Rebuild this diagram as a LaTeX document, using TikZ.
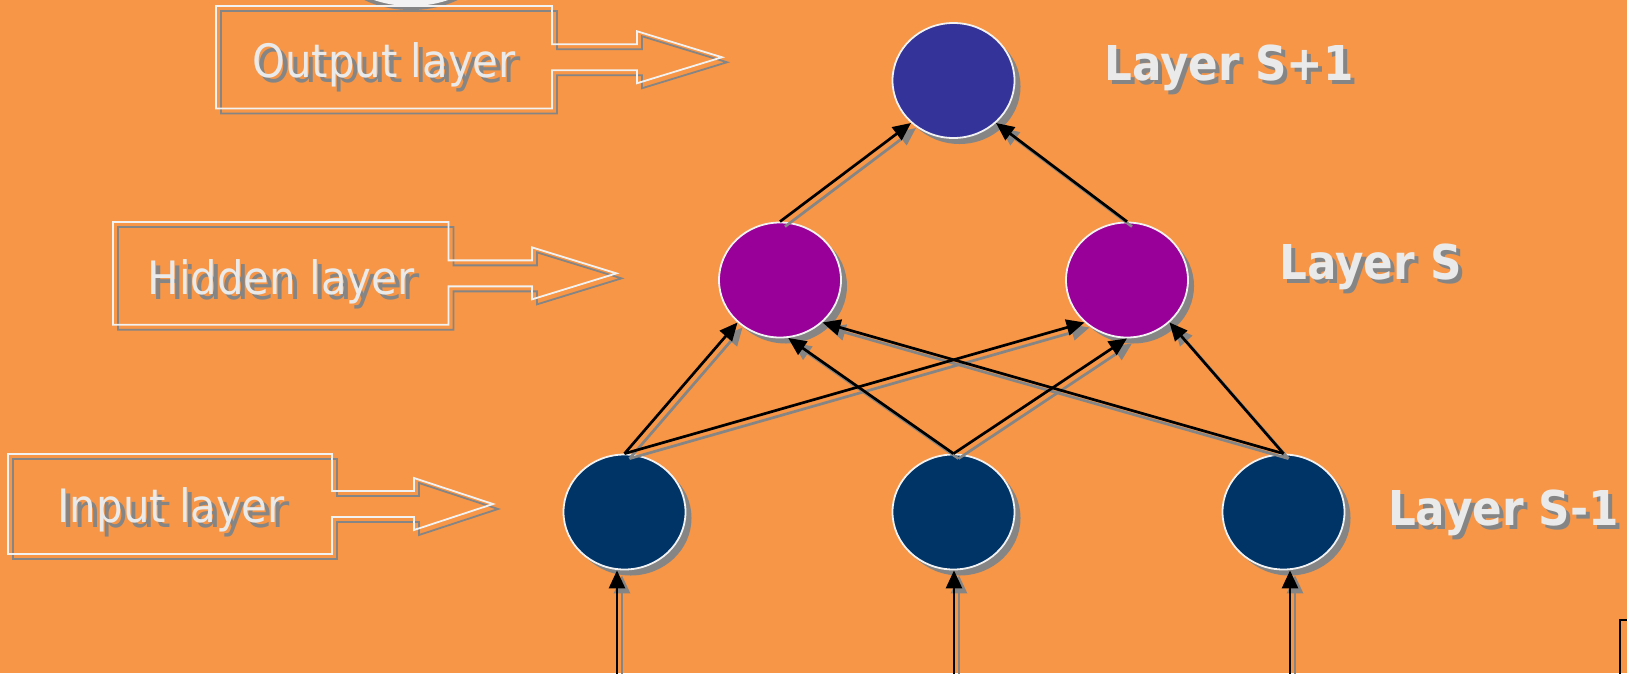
\documentclass[tikz,border=0pt]{standalone}
\usepackage{fontspec}
\usetikzlibrary{arrows.meta,shapes.geometric,shadows}
\newfontfamily\labelfont{DejaVu Sans}[FakeStretch=0.91]

\definecolor{bgorange}{HTML}{F79646}
\definecolor{outblue}{HTML}{333399}
\definecolor{hidpurple}{HTML}{990099}
\definecolor{inpnavy}{HTML}{003366}
\definecolor{rimwhite}{HTML}{F2F2F2}
\definecolor{textwhite}{HTML}{EAEAEA}
\definecolor{shadegray}{HTML}{858585}

% text with a gray copy set a little to the lower right behind it
\newcommand\shadowed[3]{\makebox[0pt][l]{\kern#1\raisebox{-#2}[0pt][0pt]{\color{shadegray}#3}}#3}

\tikzset{
  % box with a block arrow on its right side:
  % #1 box width, #2 half height, #3 stem length, #4 head length
  pics/callout/.style n args={4}{code={
    \def\calloutpath{(0,-#2) -- (#1,-#2) -- (#1,-13) -- ({#1+#3},-13) -- ({#1+#3},-26)
      -- ({#1+#3+#4},0) -- ({#1+#3},26) -- ({#1+#3},13) -- (#1,13) -- (#1,#2)
      -- (0,#2) -- cycle}
    \draw[shadegray, line width=1.8pt, shift={(5,5)}] \calloutpath;
    \draw[rimwhite, line width=1.8pt] \calloutpath;
  }},
  neuron/.style={ellipse, minimum width=122pt, minimum height=115pt,
    inner sep=0pt, draw=rimwhite, line width=1.8pt,
    general shadow={fill=shadegray, shadow xshift=6pt, shadow yshift=-6pt}},
  wire/.style={line width=2.7pt, black, -{Triangle[length=18pt,width=16pt]}},
  wireshade/.style={wire, shadegray},
  boxtext/.style={font=\labelfont\fontsize{46}{55}\selectfont, text=textwhite,
    inner sep=0pt, anchor=base},
  layertext/.style={font=\labelfont\bfseries\fontsize{48}{57}\selectfont,
    text=textwhite, inner sep=0pt, anchor=base}
}

\begin{document}
\begin{tikzpicture}[x=1pt, y=-1pt]
  \useasboundingbox (0,0) rectangle (1627,673);
  \fill[bgorange] (0,0) rectangle (1627,673);
  \clip (0,0) rectangle (1627,673);

  % partly visible oval at the top edge
  \fill[shadegray] (411,-36) ellipse [x radius=75, y radius=46];
  \fill[rimwhite] (411,-40) ellipse [x radius=75, y radius=46];

  % side callouts
  \pic (outbox) at (216,57.25) {callout={336}{51.25}{85}{85}};
  \pic (hidbox) at (113,273.35) {callout={335.5}{51.35}{83.5}{84.5}};
  \pic (inbox)  at (8,504) {callout={324}{50}{82}{79}};

  \node[boxtext] (outtext) at (384,77.5) {\shadowed{5pt}{5pt}{Output layer}};
  \node[boxtext] (hidtext) at (281,294.4) {\shadowed{5pt}{5pt}{Hidden layer}};
  \node[boxtext] (intext)  at (171,522) {\shadowed{5pt}{5pt}{Input layer}};

  % layer names
  \node[layertext] (l3text) at (1229,80) {\shadowed{4pt}{4pt}{Layer S+1}};
  \node[layertext] (l2text) at (1370.5,279) {\shadowed{4pt}{4pt}{Layer S}};
  \node[layertext] (l1text) at (1503.5,525) {\shadowed{4pt}{4pt}{Layer S-1}};

  % neurons
  \node[neuron, fill=outblue]   (o)  at (953.5,80.5) {};
  \node[neuron, fill=hidpurple] (hl) at (780,280) {};
  \node[neuron, fill=hidpurple] (hr) at (1127,280) {};
  \node[neuron, fill=inpnavy]   (i1) at (624.5,512) {};
  \node[neuron, fill=inpnavy]   (i2) at (953.5,512) {};
  \node[neuron, fill=inpnavy]   (i3) at (1283.5,512) {};

  % free ends of the incoming signals
  \coordinate (b1) at (617,690);
  \coordinate (b2) at (954,690);
  \coordinate (b3) at (1290,690);

  % connections: shadows first, then the black wires
  \begin{scope}[transform canvas={xshift=5pt, yshift=-5pt}]
    \foreach \s/\t in {i1.north/hl.225, i1.north/hr.225, i2.north/hl.278,
                       i2.north/hr.270, i3.north/hl.315, i3.north/hr.315,
                       hl.north/o.225, hr.north/o.315}
      \draw[wireshade] (\s) -- (\t);
    \foreach \b/\n in {b1/i1, b2/i2, b3/i3}
      \draw[wireshade] (\b) -- (\b |- \n.south);
  \end{scope}
  \foreach \s/\t in {i1.north/hl.225, i1.north/hr.225, i2.north/hl.278,
                     i2.north/hr.270, i3.north/hl.315, i3.north/hr.315,
                     hl.north/o.225, hr.north/o.315}
    \draw[wire] (\s) -- (\t);
  \foreach \b/\n in {b1/i1, b2/i2, b3/i3}
    \draw[wire] (\b) -- (\b |- \n.south);

  % box cut by the lower right corner
  \draw[black, line width=2.5pt] (1620,620) rectangle (1670,700);
\end{tikzpicture}
\end{document}
